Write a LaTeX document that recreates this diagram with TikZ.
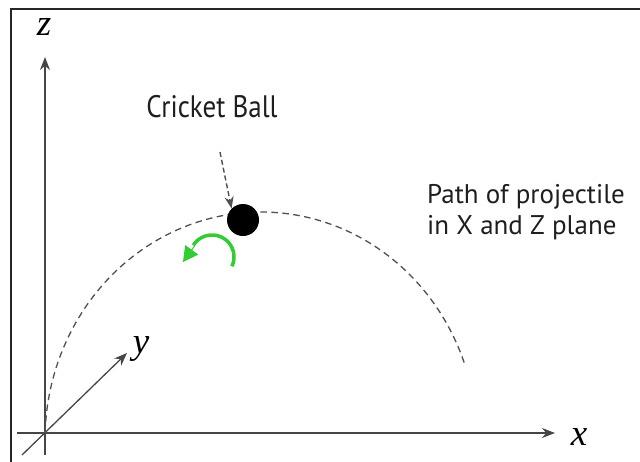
\documentclass[tikz,border=0pt]{standalone}
\usepackage{fontspec}
\setmainfont{PT Sans}
\newfontfamily\mathlet{Liberation Serif}
\usetikzlibrary{arrows.meta}
\definecolor{axisgray}{RGB}{70,70,70}
\definecolor{pathgray}{RGB}{80,80,80}
\definecolor{spingreen}{RGB}{50,205,50}
\definecolor{textdark}{RGB}{30,30,30}
\tikzset{
  axis/.style={draw=axisgray, line width=1.6pt, -{Stealth[length=13pt,width=10pt]}},
  trajectory/.style={draw=pathgray, line width=1.3pt, dash pattern=on 6.5pt off 4.5pt},
  pointer/.style={draw=pathgray, line width=1.4pt, dash pattern=on 5pt off 3pt, -{Stealth[length=12pt,width=9pt]}},
  axlabel/.style={font=\mathlet\itshape\fontsize{37}{37}\selectfont, inner sep=0pt},
  caption/.style={font=\fontsize{27}{31}\selectfont, text=textdark, inner sep=0pt, align=left},
}
\begin{document}
\begin{tikzpicture}[x=1pt,y=-1pt]
\useasboundingbox (0,0) rectangle (640,461);
% frame (top and left edges visible)
\draw[line width=2.2pt, black!85] (11,470) -- (11,9) -- (650,9);
% axes
\coordinate (O) at (45,433);
\coordinate (zs) at (45,455);
\coordinate (ze) at (45,57);
\coordinate (xs) at (17,433);
\coordinate (xe) at (555,433);
\coordinate (ys) at (22,455);
\coordinate (ye) at (127,353);
\draw[axis] (zs) -- (ze);
\draw[axis] (xs) -- (xe);
\draw[axis, line width=1.3pt] (ys) -- (ye);
\node[axlabel] (zl) at (44,27) {z};
\node[axlabel] (xl) at (579,437) {x};
\node[axlabel] (yl) at (141,349) {y};
% trajectory
\draw[trajectory] plot[domain=178.2:19.2, samples=120, smooth] ({261+216*cos(\x)},{440-228*sin(\x)});
% ball
\node[circle, fill=black, minimum size=32pt, inner sep=0pt] (ball) at (243,220) {};
% pointer
\coordinate (ptr) at (220,152);
\draw[pointer] (ptr) -- (ball.north west);
% spin arrow
\draw[spingreen, line width=3.5pt] plot[domain=-25:148, samples=40, smooth] ({212+22*cos(\x)},{257-22*sin(\x)});
\coordinate (hb) at (194.5,246);
\coordinate (ht) at (183,262);
\draw[spingreen, line width=1pt, -{Triangle[length=15pt,width=16pt]}] (hb) -- (ht);
% texts
\node[caption, anchor=base] (cb) at (212,117) {\scalebox{1}[1.15]{Cricket Ball}};
\node[caption, anchor=base west] (pp) at (427,234) {Path of projectile\\in X and Z plane};
\end{tikzpicture}
\end{document}
